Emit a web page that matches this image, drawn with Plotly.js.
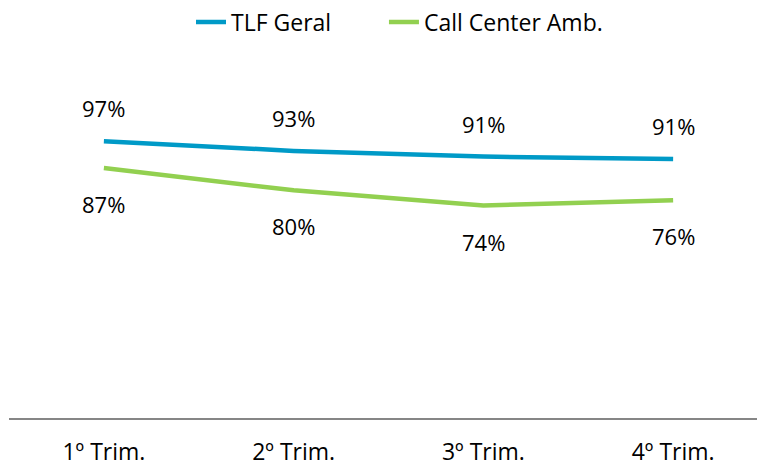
<!DOCTYPE html>
<html>
<head>
<meta charset="utf-8">
<script src="https://cdn.plot.ly/plotly-3.0.1.min.js"></script>
<style>
  html, body { margin: 0; padding: 0; background: #fff; }
  #chart { width: 757px; height: 466px; }
</style>
</head>
<body>
<div id="chart"></div>
<script>
const quarters = ["1º Trim.", "2º Trim.", "3º Trim.", "4º Trim."];
const tlfGeral = [96.8, 93.4, 91.4, 90.6];
const callCenter = [87.4, 79.6, 74.3, 76.1];

const FONT = "Open Sans, Noto Sans, sans-serif";
// padding after the first legend entry, to space it like the original
const GAP = "\u00a0".repeat(8);

function pctLabels(values, shift) {
  return values.map((v, i) => ({
    x: quarters[i],
    y: v,
    text: Math.round(v) + "%",
    showarrow: false,
    yanchor: "middle",
    yshift: shift,
    font: { family: FONT, size: 22, color: "#000" }
  }));
}

const traces = [
  {
    type: "scatter",
    mode: "lines",
    name: "TLF Geral" + GAP,
    x: quarters,
    y: tlfGeral,
    line: { color: "#009ac7", width: 4.5 }
  },
  {
    type: "scatter",
    mode: "lines",
    name: "Call Center Amb.",
    x: quarters,
    y: callCenter,
    line: { color: "#92d050", width: 4.5 }
  }
];

const layout = {
  width: 757,
  height: 466,
  paper_bgcolor: "#fff",
  plot_bgcolor: "#fff",
  margin: { l: 9, r: 0, t: 132, b: 48 },
  font: { family: FONT, size: 22, color: "#000" },
  showlegend: true,
  legend: {
    orientation: "h",
    x: (191 - 9) / 748,
    xanchor: "left",
    yref: "container",
    y: 1 - 22 / 466,
    yanchor: "middle",
    font: { family: FONT, size: 23, color: "#000" },
    itemwidth: 30
  },
  xaxis: {
    type: "category",
    range: [-0.5, 3.442],
    showgrid: false,
    zeroline: false,
    showline: true,
    linecolor: "#868686",
    linewidth: 2,
    ticks: "",
    ticklabelstandoff: 12,
    tickfont: { family: FONT, size: 23, color: "#000" },
    fixedrange: true
  },
  yaxis: {
    range: [0, 100],
    visible: false,
    showgrid: false,
    zeroline: false,
    fixedrange: true
  },
  annotations: pctLabels(tlfGeral, 33).concat(pctLabels(callCenter, -36))
};

Plotly.newPlot("chart", traces, layout, { displayModeBar: false, staticPlot: true });
</script>
</body>
</html>
